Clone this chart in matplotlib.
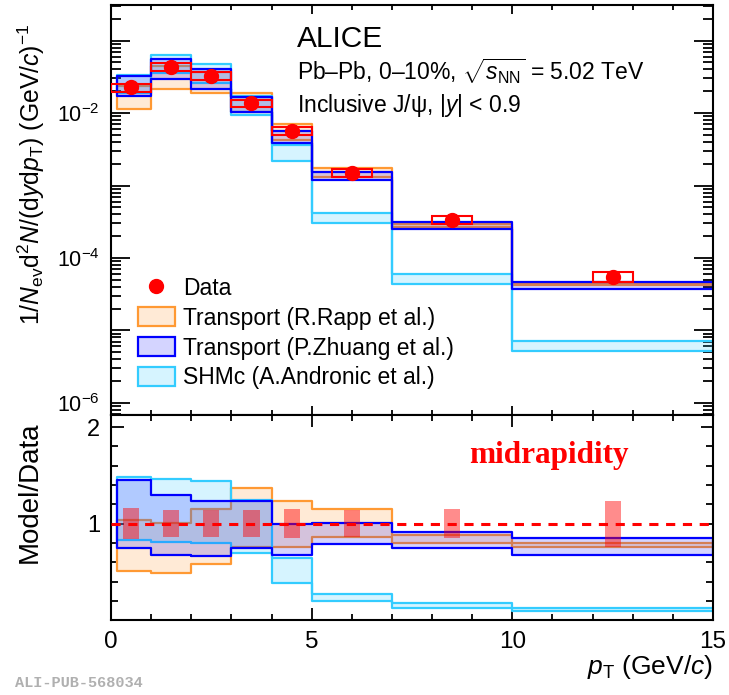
import numpy as np
import matplotlib
matplotlib.use('Agg')
import matplotlib.pyplot as plt
from matplotlib.patches import Rectangle, Patch
from matplotlib.lines import Line2D
from matplotlib.ticker import LogLocator, NullFormatter, FuncFormatter, MultipleLocator, FixedLocator

plt.rcParams['font.family'] = ['Liberation Sans', 'DejaVu Sans']
plt.rcParams['mathtext.fontset'] = 'custom'
plt.rcParams['mathtext.rm'] = 'Liberation Sans'
plt.rcParams['mathtext.it'] = 'Liberation Sans:italic'
plt.rcParams['mathtext.bf'] = 'Liberation Sans:bold'

# data (inclusive J/psi, Pb-Pb 0-10%)
pt_centers = [0.5, 1.5, 2.5, 3.5, 4.5, 6.0, 8.5, 12.5]
data_yield = [0.0226, 0.0435, 0.0324, 0.0136, 0.00565, 0.00151, 3.36e-4, 5.5e-5]
data_syst = [0.13, 0.12, 0.12, 0.12, 0.13, 0.12, 0.13, 0.15]        # relative, spectrum boxes
ratio_unc = [0.16, 0.14, 0.14, 0.14, 0.15, 0.14, 0.15, 0.24]        # relative, ratio boxes

# model bins and model/data ratio bands
model_edges = [0.15, 1, 2, 3, 4, 5, 7, 10, 15]
rapp_lo = [0.51, 0.49, 0.58, 0.76, 0.76, 0.865, 0.805, 0.76]
rapp_hi = [1.04, 1.01, 1.15, 1.37, 1.24, 1.15, 0.885, 0.805]
zhuang_lo = [0.75, 0.68, 0.67, 0.75, 0.68, 0.795, 0.75, 0.68]
zhuang_hi = [1.455, 1.30, 1.235, 1.24, 1.0, 1.005, 0.92, 0.85]
shm_lo = [0.83, 0.815, 0.805, 0.695, 0.385, 0.20, 0.13, 0.094]
shm_hi = [1.48, 1.46, 1.445, 1.25, 0.65, 0.275, 0.18, 0.13]

labels = ['Data', 'Transport (R.Rapp et al.)', 'Transport (P.Zhuang et al.)', 'SHMc (A.Andronic et al.)']

orange_fc = (1.0, 0.6, 0.2, 0.2)
orange_ec = '#ff9933'
blue_fc = (0.0, 0.0, 1.0, 0.17)
blue_ec = '#0000ff'
cyan_fc = (0.2, 0.8, 1.0, 0.2)
cyan_ec = '#33ccff'


def band(ax, lo, hi, fc, ec):
  lo = np.append(lo, lo[-1])
  hi = np.append(hi, hi[-1])
  ax.fill_between(model_edges, lo, hi, step='post', facecolor=fc, edgecolor=ec, lw=1.6, zorder=2)


def style_axis(ax):
  for s in ax.spines.values():
    s.set_linewidth(1.5)
  ax.tick_params(which='both', direction='in', top=True, right=True, width=1.3, labelsize=17.5)
  ax.xaxis.set_major_locator(MultipleLocator(5))
  ax.xaxis.set_minor_locator(MultipleLocator(1))
  ax.set_xlim(0, 15)


def exp_label(v, pos):
  e = int(round(np.log10(v)))
  if e % 2 == 0:
    return r'$10^{%d}$' % e
  return ''


fig = plt.figure(figsize=(7.29, 6.95), dpi=100)
ax1 = fig.add_axes([0.1523, 0.4029, 0.8258, 0.5899])
ax2 = fig.add_axes([0.1523, 0.1079, 0.8258, 0.2950])

data = np.array(data_yield)

# top panel: spectra
band(ax1, np.array(rapp_lo) * data, np.array(rapp_hi) * data, orange_fc, orange_ec)
band(ax1, np.array(shm_lo) * data, np.array(shm_hi) * data, cyan_fc, cyan_ec)
band(ax1, np.array(zhuang_lo) * data, np.array(zhuang_hi) * data, blue_fc, blue_ec)
for x, y, s in zip(pt_centers, data, data_syst):
  ax1.add_patch(Rectangle((x - 0.5, y * (1 - s)), 1.0, y * 2 * s, fill=False,
                          edgecolor='red', lw=1.5, zorder=4))
ax1.plot(pt_centers, data, 'o', color='red', ms=10, zorder=5)

ax1.set_yscale('log')
ax1.set_ylim(6.8e-7, 0.31)
style_axis(ax1)
ax1.tick_params(axis='x', which='major', length=6.5, labelbottom=False)
ax1.tick_params(axis='x', which='minor', length=3.6)
ax1.tick_params(axis='y', which='major', length=14, pad=8, labelsize=15.5)
ax1.tick_params(axis='y', which='minor', length=7)
ax1.yaxis.set_major_locator(LogLocator(base=10, numticks=20))
ax1.yaxis.set_minor_locator(LogLocator(base=10, subs=np.arange(2, 10), numticks=20))
ax1.yaxis.set_major_formatter(FuncFormatter(exp_label))
ax1.yaxis.set_minor_formatter(NullFormatter())

ax1.text(0.309, 0.898, 'ALICE', transform=ax1.transAxes, fontsize=21.5, va='baseline')
ax1.text(0.309, 0.817, r'Pb–Pb, 0–10%, $\sqrt{s_{\rm NN}}$ = 5.02 TeV', transform=ax1.transAxes,
         fontsize=16.5, va='baseline')
ax1.text(0.309, 0.740, r'Inclusive J/ψ, |$y$| < 0.9', transform=ax1.transAxes, fontsize=16.5,
         va='baseline')

handles = [Line2D([], [], marker='o', color='red', ls='none', ms=10),
           Patch(facecolor=orange_fc, edgecolor=orange_ec, lw=1.6),
           Patch(facecolor=blue_fc, edgecolor=blue_ec, lw=1.6),
           Patch(facecolor=cyan_fc, edgecolor=cyan_ec, lw=1.6)]
ax1.legend(handles, labels, loc='upper left', bbox_to_anchor=(0.045, 0.337), frameon=False,
           fontsize=16.5, borderpad=0, borderaxespad=0, handlelength=1.6, handleheight=0.87,
           handletextpad=0.35, labelspacing=0.3)

# bottom panel: model / data
band(ax2, rapp_lo, rapp_hi, orange_fc, orange_ec)
band(ax2, shm_lo, shm_hi, cyan_fc, cyan_ec)
band(ax2, zhuang_lo, zhuang_hi, blue_fc, blue_ec)
for x, s in zip(pt_centers, ratio_unc):
  ax2.add_patch(Rectangle((x - 0.2, 1 - s), 0.4, 2 * s, facecolor=(1, 0, 0, 0.45),
                          edgecolor='none', zorder=4))
ax2.axhline(1.0, color='red', lw=2.2, ls=(0, (3, 2.5)), zorder=5)

ax2.set_ylim(0.005, 2.125)
style_axis(ax2)
ax2.tick_params(axis='x', which='major', length=8.6, pad=8)
ax2.tick_params(axis='x', which='minor', length=4.3)
ax2.tick_params(axis='y', which='major', length=9, pad=8, labelsize=17)
ax2.tick_params(axis='y', which='minor', length=5)
ax2.yaxis.set_major_locator(FixedLocator([1, 2]))
ax2.yaxis.set_minor_locator(MultipleLocator(0.2))

ax2.text(0.727, 0.767, 'midrapidity', transform=ax2.transAxes, fontsize=22.5, color='red',
         fontweight='bold', family='Liberation Serif', ha='center', va='baseline')

# axis titles
fig.text(31 / 729, 1 - 174 / 695,
         r'$1/N_{\rm ev}{\rm d}^{2}N/({\rm d}y{\rm d}p_{\rm T})$ (GeV/$c$)$^{-1}$',
         rotation=90, ha='center', va='center', fontsize=17.8)
fig.text(30 / 729, 1 - 492 / 695, 'Model/Data', rotation=90, ha='center', va='center', fontsize=20)
fig.text(713 / 729, 1 - 667 / 695, r'$p_{\rm T}$ (GeV/$c$)', ha='right', va='center', fontsize=19)
fig.text(15 / 729, 1 - 687 / 695, 'ALI-PUB-568034', family='Liberation Mono', fontweight='bold',
         fontsize=11, color='#b0b0b0', va='baseline')

fig.savefig('out.png', dpi=100)
